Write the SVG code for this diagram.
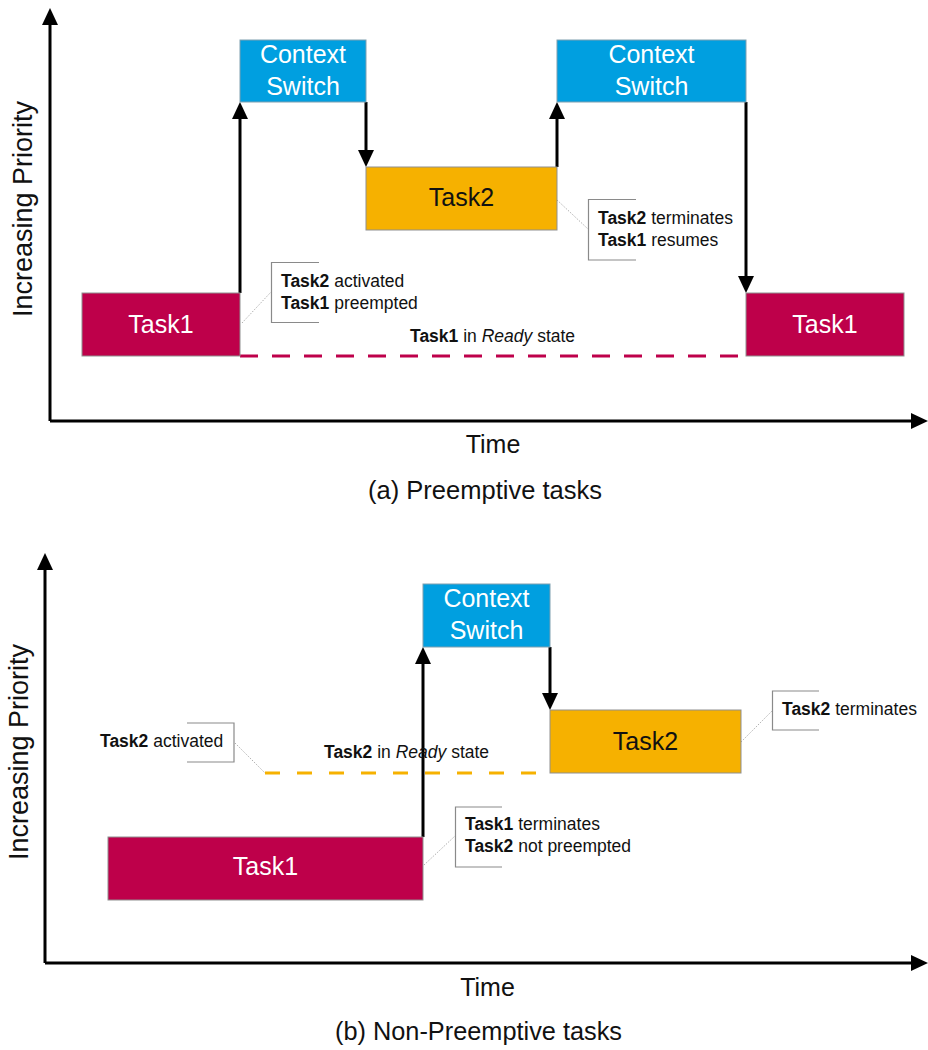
<svg xmlns="http://www.w3.org/2000/svg" width="928" height="1050" viewBox="0 0 928 1050">
  <defs>
    <style>
      .task1 { fill: #BE004A; stroke: #8f8f8f; stroke-width: 1; }
      .task2 { fill: #F6B100; stroke: #8f8f8f; stroke-width: 1; }
      .cs { fill: #009FE0; stroke: #7f9fb0; stroke-width: 1; }
      .boxtxt { font-family: "Liberation Sans", Arial, sans-serif; font-size: 25px; text-anchor: middle; }
      .white { fill: #ffffff; }
      .dark { fill: #111111; }
      .note { font-family: "Liberation Sans", Arial, sans-serif; font-size: 17.5px; fill: #111111; }
      .note .b { font-weight: bold; }
      .note .i { font-style: italic; }
      .bracket { fill: none; stroke: #8a8a8a; stroke-width: 1.2; }
      .leader { fill: none; stroke: #b0b0b0; stroke-width: 1; stroke-dasharray: 1.5 1.5; }
      .axis { fill: none; stroke: #000; stroke-width: 3; }
      .flow { fill: none; stroke: #000; stroke-width: 3; }
      .axislbl { font-family: "Liberation Sans", Arial, sans-serif; font-size: 27px; fill: #111; text-anchor: middle; }
      .cap { font-family: "Liberation Sans", Arial, sans-serif; font-size: 25px; fill: #111; text-anchor: middle; }
      .ready-red { fill: none; stroke: #BE004A; stroke-width: 3; stroke-dasharray: 18 14; }
      .ready-orange { fill: none; stroke: #F6B100; stroke-width: 3; stroke-dasharray: 15 17; }
    </style>
    <marker id="head" viewBox="0 0 17 16" markerWidth="17" markerHeight="16" refX="3" refY="8" orient="auto" markerUnits="userSpaceOnUse">
      <path d="M0,0 L17,8 L0,16 z" fill="#000"/>
    </marker>
  </defs>

  <rect width="928" height="1050" fill="#ffffff"/>

  <!-- ===== (a) Preemptive tasks ===== -->
  <g id="axes-a">
    <path class="axis" d="M50,421 V22" marker-end="url(#head)"/>
    <path class="axis" d="M50,421 H914" marker-end="url(#head)"/>
    <text class="axislbl" transform="translate(32,209) rotate(-90)">Increasing Priority</text>
    <text class="cap" x="493" y="453">Time</text>
    <text class="cap" x="485" y="499" textLength="234" lengthAdjust="spacingAndGlyphs">(a) Preemptive tasks</text>
  </g>

  <g id="connectors-a">
    <path class="ready-red" d="M240,356 H746"/>
    <path class="flow" d="M240,293 V116" marker-end="url(#head)"/>
    <path class="flow" d="M366,102 V153" marker-end="url(#head)"/>
    <path class="flow" d="M557,167 V116" marker-end="url(#head)"/>
    <path class="flow" d="M746,102 V279" marker-end="url(#head)"/>
    <path class="leader" d="M242,323 L271,292"/>
    <path class="leader" d="M557,200 L588,229"/>
  </g>

  <g id="task1-start-a">
    <rect class="task1" x="82" y="293" width="158" height="63"/>
    <text class="boxtxt white" x="161" y="333">Task1</text>
  </g>
  <g id="switch1-a">
    <rect class="cs" x="240" y="40" width="126" height="62"/>
    <text class="boxtxt white" x="303" y="63">Context</text>
    <text class="boxtxt white" x="303" y="95">Switch</text>
  </g>
  <g id="task2-a">
    <rect class="task2" x="366" y="167" width="191" height="63"/>
    <text class="boxtxt dark" x="461.5" y="206">Task2</text>
  </g>
  <g id="switch2-a">
    <rect class="cs" x="557" y="40" width="189" height="62"/>
    <text class="boxtxt white" x="651.5" y="63">Context</text>
    <text class="boxtxt white" x="651.5" y="95">Switch</text>
  </g>
  <g id="task1-resume-a">
    <rect class="task1" x="746" y="293" width="158" height="63"/>
    <text class="boxtxt white" x="825" y="333">Task1</text>
  </g>

  <g id="note-preempt-a">
    <path class="bracket" d="M319,262.5 H271.5 V322.5 H319"/>
    <text class="note" x="281" y="287"><tspan class="b">Task2</tspan> activated</text>
    <text class="note" x="281" y="309"><tspan class="b">Task1</tspan> preempted</text>
  </g>
  <g id="note-resume-a">
    <path class="bracket" d="M636,199.5 H588.5 V260 H636"/>
    <text class="note" x="598" y="224"><tspan class="b">Task2</tspan> terminates</text>
    <text class="note" x="598" y="246"><tspan class="b">Task1</tspan> resumes</text>
  </g>
  <g id="note-ready-a">
    <text class="note" x="410" y="342"><tspan class="b">Task1</tspan> in <tspan class="i">Ready</tspan> state</text>
  </g>

  <!-- ===== (b) Non-Preemptive tasks ===== -->
  <g id="axes-b">
    <path class="axis" d="M45,963 V567" marker-end="url(#head)"/>
    <path class="axis" d="M45,963 H914" marker-end="url(#head)"/>
    <text class="axislbl" transform="translate(28,752) rotate(-90)">Increasing Priority</text>
    <text class="cap" x="487.5" y="996">Time</text>
    <text class="cap" x="478.5" y="1040" textLength="287" lengthAdjust="spacingAndGlyphs">(b) Non-Preemptive tasks</text>
  </g>

  <g id="connectors-b">
    <path class="ready-orange" d="M265,773 H550"/>
    <path class="flow" d="M423,837 V661" marker-end="url(#head)"/>
    <path class="flow" d="M550,647 V696" marker-end="url(#head)"/>
    <path class="leader" d="M235,743 L265,773"/>
    <path class="leader" d="M741,742 L772,711"/>
    <path class="leader" d="M424,865 L455,836"/>
  </g>

  <g id="task1-b">
    <rect class="task1" x="108" y="837" width="315" height="63"/>
    <text class="boxtxt white" x="265.5" y="875">Task1</text>
  </g>
  <g id="switch-b">
    <rect class="cs" x="423" y="584" width="127" height="63"/>
    <text class="boxtxt white" x="486.5" y="607">Context</text>
    <text class="boxtxt white" x="486.5" y="639">Switch</text>
  </g>
  <g id="task2-b">
    <rect class="task2" x="550" y="710" width="191" height="63"/>
    <text class="boxtxt dark" x="645.5" y="750">Task2</text>
  </g>

  <g id="note-activated-b">
    <path class="bracket" d="M187,723 H234 V762 H187"/>
    <text class="note" x="100" y="747"><tspan class="b">Task2</tspan> activated</text>
  </g>
  <g id="note-ready-b">
    <text class="note" x="324" y="758"><tspan class="b">Task2</tspan> in <tspan class="i">Ready</tspan> state</text>
  </g>
  <g id="note-terminates-b">
    <path class="bracket" d="M819,691 H772.5 V730 H819"/>
    <text class="note" x="782" y="715"><tspan class="b">Task2</tspan> terminates</text>
  </g>
  <g id="note-not-preempted-b">
    <path class="bracket" d="M502,807 H455.5 V867 H502"/>
    <text class="note" x="465" y="830"><tspan class="b">Task1</tspan> terminates</text>
    <text class="note" x="465" y="852"><tspan class="b">Task2</tspan> not preempted</text>
  </g>
</svg>
